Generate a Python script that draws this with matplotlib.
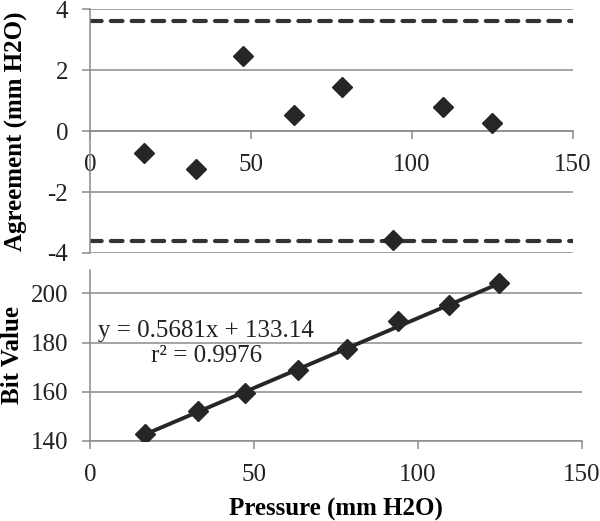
import matplotlib
matplotlib.use("Agg")
import matplotlib.pyplot as plt
from matplotlib.ticker import FuncFormatter

plt.rcParams["font.family"] = ["Liberation Serif", "DejaVu Serif"]

# pressure (mm H2O) of each calibration point
pressure = [16.7, 32.8, 47.4, 63.4, 78.3, 94.0, 109.5, 124.8]
# agreement between sensor and reference (mm H2O)
agreement = [-0.72, -1.24, 2.47, 0.52, 1.45, -3.57, 0.78, 0.25]
# limits of agreement
loa = [3.61, -3.61]
# raw sensor bit values
bit_value = [143.0, 152.2, 159.3, 168.9, 177.3, 188.6, 195.4, 204.2]
# linear fit
slope, intercept, r2 = 0.5681, 133.14, 0.9976

x_ticks = [0, 50, 100, 150]
top_ticks = [-4, -2, 0, 2, 4]
bot_ticks = [140, 160, 180, 200]

GRID = "#8c8c8c"
DARK = "#262626"
FS = 18


def hyphen(v, _pos):
    return f"{v:g}".replace("\u2212", "-")


fig = plt.figure(figsize=(6.0, 5.21), dpi=100)
ax1 = fig.add_axes([0.15, 0.5144, 0.805, 0.4683])
ax2 = fig.add_axes([0.15, 0.1536, 0.82, 0.3282])

for ax in (ax1, ax2):
    for side in ("top", "right"):
        ax.spines[side].set_visible(False)
    for side in ("left", "bottom"):
        ax.spines[side].set_color(GRID)
        ax.spines[side].set_linewidth(1.1)
    ax.grid(axis="y", color=GRID, linewidth=1.1)
    ax.set_axisbelow(True)
    ax.tick_params(colors=GRID, labelcolor="#222222", labelsize=FS,
                   length=5.8, width=1.1)
    ax.tick_params(axis="x", pad=11)
    ax.tick_params(axis="y", pad=10)
    ax.set_xlim(0, 150)
    ax.set_xticks(x_ticks)
    ax.yaxis.set_major_formatter(FuncFormatter(hyphen))

# top: agreement plot
ax1.spines["bottom"].set_position(("data", 0))
ax1.set_ylim(-4, 4)
ax1.set_yticks(top_ticks)
for v in loa:
    ax1.axhline(v, color="#333333", linewidth=3.0, dashes=(2.8, 2.2),
                dash_capstyle="round", zorder=2)
ax1.plot(pressure, agreement, "D", color=DARK, markersize=10, zorder=3)
ax1.set_ylabel("Agreement (mm H2O)", fontsize=FS, fontweight="bold")
ax1.yaxis.set_label_coords(-0.128, 0.5)

# bottom: calibration
ax2.set_ylim(140, 209.5)
ax2.set_yticks(bot_ticks)
fit_x = [pressure[0], pressure[-1]]
fit_y = [slope * x + intercept for x in fit_x]
ax2.plot(fit_x, fit_y, color=DARK, linewidth=2.8, zorder=2)
ax2.plot(pressure, bit_value, "D", color=DARK, markersize=10, zorder=3)
ax2.text(35.4, 179.5, f"y = {slope}x + {intercept}\nr\u00b2 = {r2}",
         ha="center", va="center", multialignment="center", fontsize=FS,
         color="#222222")
ax2.set_ylabel("Bit Value", fontsize=FS, fontweight="bold")
ax2.yaxis.set_label_coords(-0.134, 0.5)
ax2.set_xlabel("Pressure (mm H2O)", fontsize=FS, fontweight="bold", labelpad=8)

fig.savefig("out.png", dpi=100, facecolor="white")
